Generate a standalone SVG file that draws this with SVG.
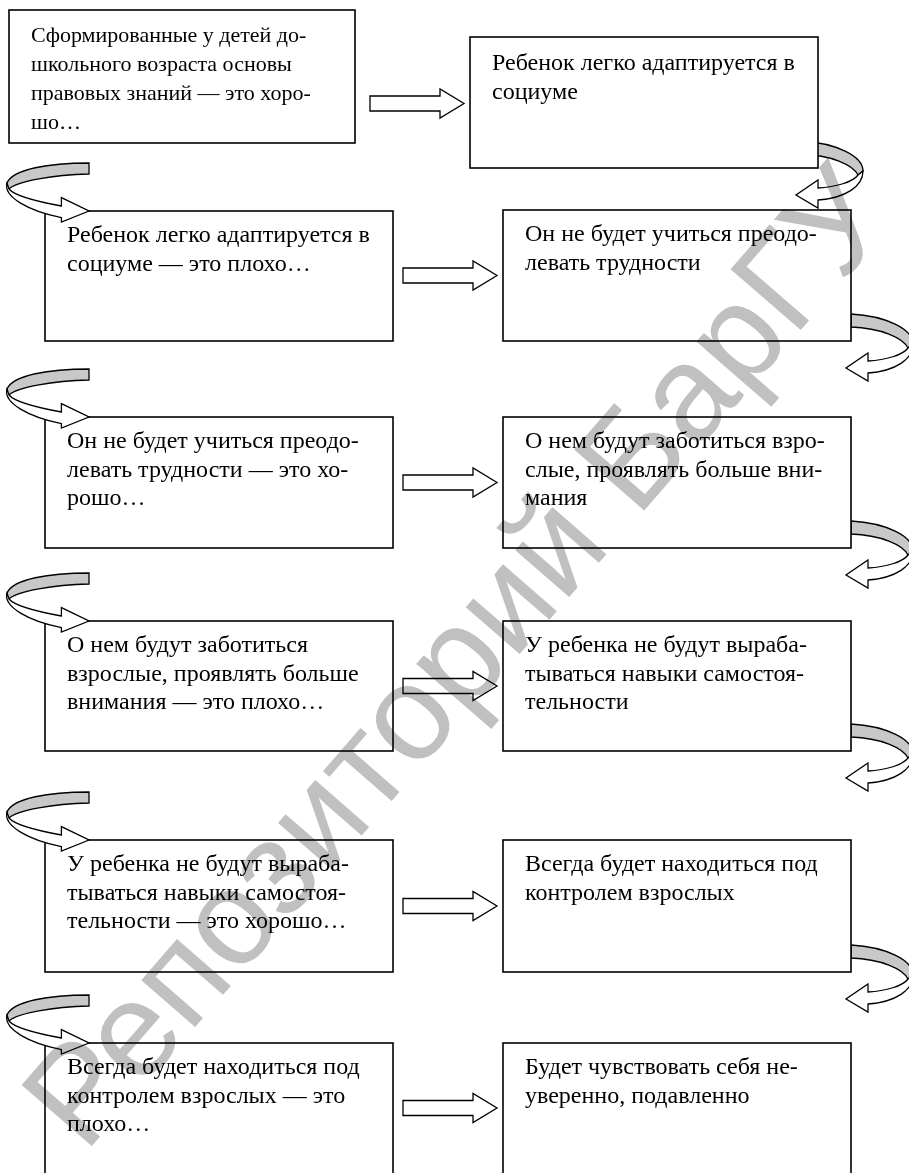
<svg xmlns="http://www.w3.org/2000/svg" width="909" height="1173" viewBox="0 0 909 1173">
<defs>
<style>
.box{fill:#fff;stroke:#000;stroke-width:1.6}
.t{font-family:"Liberation Serif","Times New Roman",serif;font-size:22px;fill:#000}
.s{font-size:24px}
.ar{fill:#fff;stroke:#000;stroke-width:1.3;stroke-linejoin:miter}
.gr{fill:#c8c8c8;stroke:#000;stroke-width:1.3}
.wm{font-family:"Liberation Sans",Arial,sans-serif;font-size:135px;fill:#c0c0c0;mix-blend-mode:multiply}
</style>
<g id="rcurve">
 <path class="gr" d="M0,-27 C35,-25 62,-12 62,3 L57,7 C52,-3 30,-13 0,-14 Z"/>
 <path class="ar" d="M62,3 C62,18 45,30 17,32 L17,40 L-5,27 L17,12 L17,20 C35,19 52,14 57,7 Z"/>
</g>
<g id="lcurve">
 <path class="gr" d="M0,-48 L0,-37 C-35,-36 -72,-30 -80,-22 C-82,-24 -83,-26 -82,-28 C-76,-42 -40,-48 0,-48 Z"/>
 <path class="ar" d="M-82,-28 C-86,-14 -60,0 -27.6,6.6 L-27.6,11 L0,0 L-27.6,-13.4 L-27.6,-5 C-55,-10 -75,-16 -80,-22 Z"/>
</g>
<path id="barrow" class="ar" d="M0,-7.5 H70 V-14.5 L94,0 L70,14.5 V7.5 H0 Z"/>
</defs>
<rect width="909" height="1173" fill="#fff"/>
<g id="connectors-back">
 <use href="#rcurve" x="801" y="168"/>
 <use href="#rcurve" x="851" y="341"/>
 <use href="#rcurve" x="851" y="548"/>
 <use href="#rcurve" x="851" y="751"/>
 <use href="#rcurve" x="851" y="972"/>
</g>
<g id="n1"><rect class="box" x="9" y="10" width="346" height="133"/>
<text class="t"><tspan x="31" y="42">Сформированные у детей до-</tspan><tspan x="31" y="71">школьного возраста основы</tspan><tspan x="31" y="100">правовых знаний — это хоро-</tspan><tspan x="31" y="129">шо…</tspan></text></g>
<g id="n2"><rect class="box" x="470" y="37" width="348" height="131"/>
<text class="t s"><tspan x="492" y="70">Ребенок легко адаптируется в</tspan><tspan x="492" y="98.5">социуме</tspan></text></g>
<g id="n3"><rect class="box" x="45" y="211" width="348" height="130"/>
<text class="t s"><tspan x="67" y="242">Ребенок легко адаптируется в</tspan><tspan x="67" y="270.5">социуме — это плохо…</tspan></text></g>
<g id="n4"><rect class="box" x="503" y="210" width="348" height="131"/>
<text class="t s"><tspan x="525" y="241">Он не будет учиться преодо-</tspan><tspan x="525" y="269.5">левать трудности</tspan></text></g>
<g id="n5"><rect class="box" x="45" y="417" width="348" height="131"/>
<text class="t s"><tspan x="67" y="448">Он не будет учиться преодо-</tspan><tspan x="67" y="476.5">левать трудности — это хо-</tspan><tspan x="67" y="505">рошо…</tspan></text></g>
<g id="n6"><rect class="box" x="503" y="417" width="348" height="131"/>
<text class="t s"><tspan x="525" y="448">О нем будут заботиться взро-</tspan><tspan x="525" y="476.5">слые, проявлять больше вни-</tspan><tspan x="525" y="505">мания</tspan></text></g>
<g id="n7"><rect class="box" x="45" y="621" width="348" height="130"/>
<text class="t s"><tspan x="67" y="652">О нем будут заботиться</tspan><tspan x="67" y="680.5">взрослые, проявлять больше</tspan><tspan x="67" y="709">внимания — это плохо…</tspan></text></g>
<g id="n8"><rect class="box" x="503" y="621" width="348" height="130"/>
<text class="t s"><tspan x="525" y="652">У ребенка не будут выраба-</tspan><tspan x="525" y="680.5">тываться навыки самостоя-</tspan><tspan x="525" y="709">тельности</tspan></text></g>
<g id="n9"><rect class="box" x="45" y="840" width="348" height="132"/>
<text class="t s"><tspan x="67" y="871">У ребенка не будут выраба-</tspan><tspan x="67" y="899.5">тываться навыки самостоя-</tspan><tspan x="67" y="928">тельности — это хорошо…</tspan></text></g>
<g id="n10"><rect class="box" x="503" y="840" width="348" height="132"/>
<text class="t s"><tspan x="525" y="871">Всегда будет находиться под</tspan><tspan x="525" y="899.5">контролем взрослых</tspan></text></g>
<g id="n11"><rect class="box" x="45" y="1043" width="348" height="140"/>
<text class="t s"><tspan x="67" y="1074">Всегда будет находиться под</tspan><tspan x="67" y="1102.5">контролем взрослых — это</tspan><tspan x="67" y="1131">плохо…</tspan></text></g>
<g id="n12"><rect class="box" x="503" y="1043" width="348" height="140"/>
<text class="t s"><tspan x="525" y="1074">Будет чувствовать себя не-</tspan><tspan x="525" y="1102.5">уверенно, подавленно</tspan></text></g>
<g id="connectors">
 <use href="#barrow" x="370" y="103.5"/>
 <use href="#barrow" x="403" y="275.5"/>
 <use href="#barrow" x="403" y="482.5"/>
 <use href="#barrow" x="403" y="686"/>
 <use href="#barrow" x="403" y="906"/>
 <use href="#barrow" x="403" y="1108"/>
 <use href="#lcurve" x="89" y="211"/>
 <use href="#lcurve" x="89" y="417"/>
 <use href="#lcurve" x="89" y="621"/>
 <use href="#lcurve" x="89" y="840"/>
 <use href="#lcurve" x="89" y="1043"/>
</g>
<text class="wm" transform="translate(455,655) rotate(-49)" text-anchor="middle" y="48">Репозиторий БарГУ</text>
</svg>
